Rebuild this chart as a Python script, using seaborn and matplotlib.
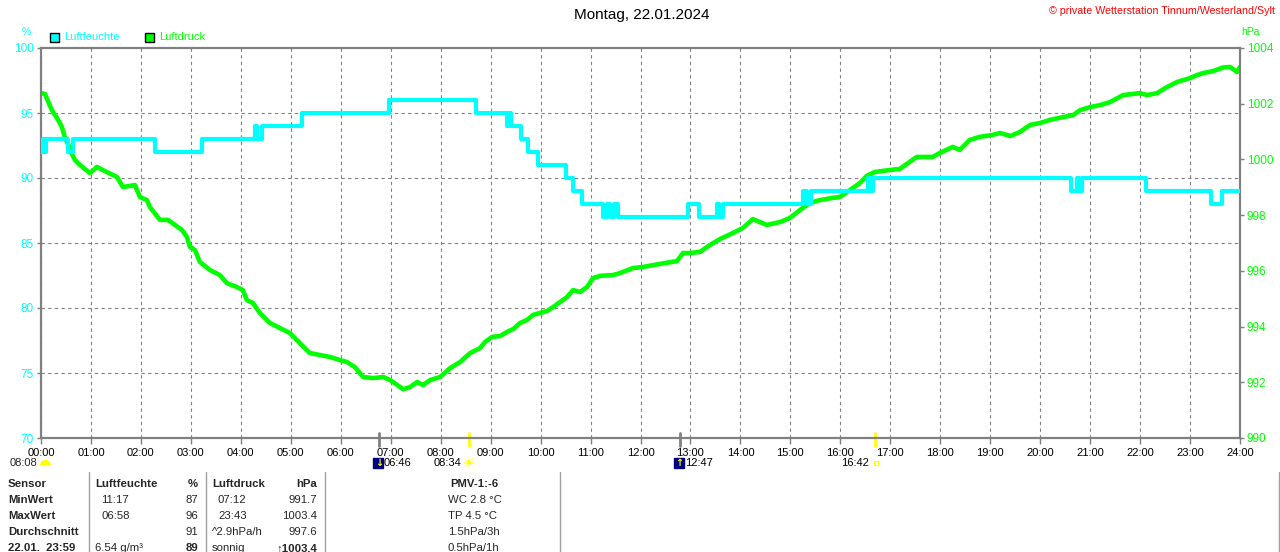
import matplotlib
matplotlib.use("Agg")
import matplotlib.pyplot as plt
import matplotlib.transforms as mtrans
from matplotlib.lines import Line2D
from matplotlib.patches import Rectangle
from matplotlib.markers import MarkerStyle
import seaborn as sns

# ---------------- data ----------------
title = "Montag, 22.01.2024"
copyright_text = "\u00a9 private Wetterstation Tinnum/Westerland/Sylt"

hour_labels = [f"{h:02d}:00" for h in range(25)]
hum_ticks = [70, 75, 80, 85, 90, 95, 100]
pres_ticks = [990, 992, 994, 996, 998, 1000, 1002, 1004]

# humidity (%), step values: time in hours where the value starts
hum_hours = [0.00, 0.04, 0.07, 0.10, 0.55, 0.64, 2.28, 3.23, 4.28, 4.33,
             4.42, 5.22, 6.96, 8.71, 9.33, 9.37, 9.40, 9.61, 9.75, 9.95,
             10.51, 10.65, 10.83, 11.25, 11.33, 11.38, 11.46, 11.54, 12.95, 13.17,
             13.53, 13.57, 13.65, 15.25, 15.33, 15.42, 16.55, 16.60, 16.65, 20.61,
             20.74, 20.78, 20.84, 22.12, 23.41, 23.63, 24.00]
hum_pct = [92, 93, 92, 93, 92, 93, 92, 93, 94, 93,
           94, 95, 96, 95, 94, 95, 94, 93, 92, 91,
           90, 89, 88, 87, 88, 87, 88, 87, 88, 87,
           88, 87, 88, 89, 88, 89, 90, 89, 90, 89,
           90, 89, 90, 89, 88, 89, 89]

# air pressure (hPa)
pres_hours = [0.00, 0.08, 0.18, 0.24, 0.32, 0.42, 0.48, 0.56, 0.62, 0.68,
              0.78, 0.98, 1.12, 1.28, 1.52, 1.64, 1.88, 1.98, 2.12, 2.18,
              2.38, 2.54, 2.68, 2.82, 2.92, 2.98, 3.08, 3.18, 3.38, 3.58,
              3.72, 3.92, 4.04, 4.12, 4.24, 4.38, 4.58, 4.78, 4.98, 5.18,
              5.38, 5.58, 5.78, 5.98, 6.12, 6.28, 6.45, 6.65, 6.85, 6.99,
              7.13, 7.25, 7.39, 7.53, 7.65, 7.79, 7.99, 8.19, 8.39, 8.59,
              8.79, 8.89, 9.03, 9.19, 9.33, 9.45, 9.59, 9.73, 9.85, 9.99,
              10.13, 10.25, 10.39, 10.53, 10.65, 10.79, 10.93, 11.05, 11.19, 11.45,
              11.59, 11.85, 12.05, 12.39, 12.73, 12.85, 12.99, 13.19, 13.39, 13.59,
              13.85, 14.05, 14.25, 14.39, 14.53, 14.79, 14.99, 15.19, 15.39, 15.59,
              15.85, 15.99, 16.19, 16.39, 16.53, 16.69, 16.99, 17.19, 17.53, 17.85,
              17.99, 18.25, 18.39, 18.59, 18.79, 19.05, 19.20, 19.40, 19.59, 19.80,
              20.00, 20.20, 20.46, 20.66, 20.80, 21.00, 21.20, 21.40, 21.66, 22.00,
              22.14, 22.34, 22.54, 22.74, 23.00, 23.14, 23.26, 23.46, 23.66, 23.80,
              23.94, 24.00]
pres_hpa = [1002.38, 1002.35, 1001.92, 1001.70, 1001.49, 1001.16, 1000.77, 1000.48, 1000.19, 999.98,
            999.80, 999.51, 999.73, 999.58, 999.37, 999.01, 999.08, 998.65, 998.54, 998.29,
            997.83, 997.83, 997.65, 997.47, 997.22, 996.86, 996.75, 996.32, 996.03, 995.85,
            995.56, 995.42, 995.31, 994.95, 994.85, 994.49, 994.13, 993.95, 993.77, 993.41,
            993.05, 992.98, 992.91, 992.80, 992.73, 992.55, 992.19, 992.15, 992.19, 992.08,
            991.90, 991.75, 991.83, 992.01, 991.90, 992.08, 992.19, 992.51, 992.73, 993.05,
            993.23, 993.45, 993.63, 993.66, 993.81, 993.91, 994.13, 994.24, 994.42, 994.49,
            994.56, 994.70, 994.88, 995.06, 995.31, 995.24, 995.42, 995.74, 995.82, 995.85,
            995.92, 996.10, 996.14, 996.25, 996.35, 996.64, 996.64, 996.68, 996.93, 997.14,
            997.36, 997.54, 997.86, 997.75, 997.65, 997.75, 997.90, 998.18, 998.44, 998.54,
            998.62, 998.65, 998.90, 999.15, 999.41, 999.55, 999.62, 999.66, 1000.09, 1000.09,
            1000.23, 1000.45, 1000.34, 1000.70, 1000.81, 1000.88, 1000.95, 1000.84, 1000.98, 1001.24,
            1001.31, 1001.42, 1001.52, 1001.59, 1001.77, 1001.88, 1001.95, 1002.06, 1002.31, 1002.38,
            1002.31, 1002.38, 1002.60, 1002.78, 1002.92, 1003.03, 1003.10, 1003.17, 1003.30, 1003.32,
            1003.14, 1003.32]

# sun / moon events
event_labels = ["06:46", "08:34", "12:47", "16:42"]
event_hours = [6 + 46 / 60, 8 + 34 / 60, 12 + 47 / 60, 16 + 42 / 60]
event_colors = ["#808080", "#FFFF00", "#808080", "#FFFF00"]
first_event = "08:08"

# summary table
table_rows = ["Sensor", "MinWert", "MaxWert", "Durchschnitt", "22.01.  23:59"]
hum_time_col = ["Luftfeuchte", "11:17", "06:58", "", "6.54 g/m\u00b3"]
hum_val_col = ["%", "87", "96", "91", "89"]
pres_time_col = ["Luftdruck", "07:12", "23:43", "^2.9hPa/h", "sonnig"]
pres_val_col = ["hPa", "991.7", "1003.4", "997.6", "\u21911003.4"]
extra_col = ["PMV-1:-6", "WC 2.8 \u00b0C", "TP 4.5 \u00b0C", "1.5hPa/3h", "0.5hPa/1h"]

# ---------------- style ----------------
sns.set_theme(style="white")
plt.rcParams["font.family"] = ["Liberation Sans", "DejaVu Sans"]

CYAN = "#00FFFF"
GREEN = "#00FF00"
GRAY = "#808080"
W, H = 1280, 552
L, R, T, B = 41, 1240, 48, 438


def fx(x):
    return x / W


def fy(y):
    return 1 - y / H


fig = plt.figure(figsize=(W / 100, H / 100), dpi=100, facecolor="white")
ax_p = fig.add_axes([fx(L), fy(B), (R - L) / W, (B - T) / H])
ax_h = ax_p.twinx()
ax_p.patch.set_visible(False)
ax_h.patch.set_visible(False)
ax_p.yaxis.tick_right()
ax_h.yaxis.tick_left()

sns.lineplot(x=pres_hours, y=pres_hpa, ax=ax_p, color=GREEN, lw=3.3,
             estimator=None, sort=False)
sns.lineplot(x=hum_hours, y=hum_pct, ax=ax_h, color=CYAN, lw=3.0,
             drawstyle="steps-post", estimator=None, sort=False)

ax_p.set_xlim(0, 24)
ax_p.set_ylim(pres_ticks[0], pres_ticks[-1])
ax_h.set_ylim(hum_ticks[0], hum_ticks[-1])
ax_p.set_xlabel("")
ax_p.set_ylabel("")
ax_h.set_ylabel("")

ax_p.set_xticks(range(25))
ax_p.set_xticklabels(hour_labels)
ax_p.set_yticks(pres_ticks)
ax_p.set_yticklabels([str(v) for v in pres_ticks])
ax_h.set_yticks(hum_ticks)
ax_h.set_yticklabels([str(v) for v in hum_ticks])

# horizontal grid at humidity ticks, drawn on the pressure axes (under the lines)
p0, p1 = pres_ticks[0], pres_ticks[-1]
h0, h1 = hum_ticks[0], hum_ticks[-1]
ax_p.set_yticks([p0 + (h - h0) * (p1 - p0) / (h1 - h0) for h in hum_ticks[1:-1]], minor=True)
ax_p.grid(True, which="major", axis="x", color=GRAY, ls=(0, (3, 3)), lw=0.8)
ax_p.grid(True, which="minor", axis="y", color=GRAY, ls=(0, (3, 3)), lw=0.8)
ax_p.grid(False, which="major", axis="y")
ax_p.tick_params(axis="y", which="minor", length=0)

ax_p.tick_params(axis="x", which="major", direction="out", length=4, width=1,
                 color=GRAY, labelcolor="black", labelsize=8, pad=3, bottom=True)
ax_p.tick_params(axis="y", which="major", direction="out", length=3, width=1,
                 color=GRAY, labelcolor=GREEN, labelsize=8.5, pad=2, right=True, left=False)
ax_h.tick_params(axis="y", direction="out", length=3, width=1, color=GRAY,
                 labelcolor=CYAN, labelsize=8.5, pad=2, left=True, right=False)

for s in ax_p.spines.values():
    s.set_color(GRAY)
    s.set_linewidth(1.6)
for s in ax_h.spines.values():
    s.set_visible(False)

# event markers on the time axis
trans = mtrans.blended_transform_factory(ax_p.transData, fig.transFigure)


def off(dx):
    return trans + mtrans.ScaledTranslation(dx / 100, 0, fig.dpi_scale_trans)


for t, c in zip(event_hours, event_colors):
    ax_p.axvline(t, ymin=-0.021, ymax=0.013, color=c, lw=2, clip_on=False)

yl = fy(463)
# 06:46 and 12:47 moon icons
for t, lab, arrow in [(event_hours[0], event_labels[0], "\u2193"),
                      (event_hours[2], event_labels[2], "\u2191")]:
    ax_p.plot([t], [yl], transform=off(-1), marker="s", ms=7.5, color="#000080",
              clip_on=False)
    ax_p.text(t, yl, arrow, transform=off(0), color="#FFFF00", fontsize=7,
              ha="center", va="center", fontweight="bold", family="DejaVu Sans",
              clip_on=False)
    ax_p.text(t, yl, lab, transform=off(5), ha="left", va="center", fontsize=8,
              color="black", clip_on=False)
# 08:34 sun
ax_p.text(event_hours[1], yl, event_labels[1], transform=off(-8), ha="right",
          va="center", fontsize=8, color="black", clip_on=False)
ax_p.text(event_hours[1], yl, "\u2600", transform=off(0), ha="center", va="center",
          fontsize=11, color="#FFFF00", family="DejaVu Sans", clip_on=False)
# 16:42
ax_p.text(event_hours[3], yl, event_labels[3], transform=off(-6), ha="right",
          va="center", fontsize=8, color="black", clip_on=False)
ax_p.plot([event_hours[3]], [yl], transform=off(1), marker="s", ms=3.5,
          mfc="none", mec="#FFFF00", mew=0.8, clip_on=False)
# 08:08 at the left
fig.text(fx(10), fy(463), first_event, ha="left", va="center", fontsize=8)
fig.add_artist(Line2D([fx(44.5)], [fy(465)], marker=MarkerStyle("o", fillstyle="top"),
                      ms=8, color="#FFFF00", mec="none", transform=fig.transFigure))

# titles and legend
fig.text(fx(642), fy(15), title, ha="center", va="center", fontsize=11, color="black")
fig.text(fx(1275), fy(11), copyright_text, ha="right", va="center", fontsize=7.7,
         color="red")
fig.text(fx(26), fy(32), "%", ha="center", va="center", fontsize=7.5, color=CYAN)
fig.text(fx(1250), fy(32), "hPa", ha="center", va="center", fontsize=7.5, color=GREEN)

for x0, col, lab in [(50, CYAN, "Luftfeuchte"), (145, GREEN, "Luftdruck")]:
    fig.add_artist(Rectangle((fx(x0), fy(42)), 9 / W, 9 / H, transform=fig.transFigure,
                             facecolor=col, edgecolor="black", lw=1))
    fig.text(fx(x0 + 14), fy(37.5), lab, ha="left", va="center", fontsize=8, color=col)

# summary table
row_y = [484, 500, 516, 532, 548]
for i, y in enumerate(row_y):
    bold_all = i == 0
    last = i == len(row_y) - 1
    fig.text(fx(8), fy(y), table_rows[i], ha="left", va="center", fontsize=8.2,
             fontweight="bold")
    fig.text(fx(95 if (i == 0 or last) else 101), fy(y), hum_time_col[i], ha="left",
             va="center", fontsize=8.2, fontweight="bold" if bold_all else "normal")
    fig.text(fx(198), fy(y), hum_val_col[i], ha="right", va="center", fontsize=8.2,
             fontweight="bold" if (bold_all or last) else "normal")
    fig.text(fx(212 if i in (0, 3, 4) else 218), fy(y), pres_time_col[i], ha="left",
             va="center", fontsize=8.2, fontweight="bold" if bold_all else "normal")
    fig.text(fx(317), fy(y), pres_val_col[i], ha="right", va="center", fontsize=8.2,
             fontweight="bold" if (bold_all or last) else "normal")
    if i == 0:
        fig.text(fx(474), fy(y), extra_col[i], ha="center", va="center", fontsize=8.2,
                 fontweight="bold")
    else:
        fig.text(fx(448), fy(y), extra_col[i], ha="left", va="center", fontsize=8.2)

for xs in [89, 206, 325, 560, 1279]:
    fig.add_artist(Line2D([fx(xs), fx(xs)], [fy(472), fy(552)], color="#a0a0a0", lw=1,
                          transform=fig.transFigure))

fig.savefig("out.png", dpi=100, facecolor="white")
